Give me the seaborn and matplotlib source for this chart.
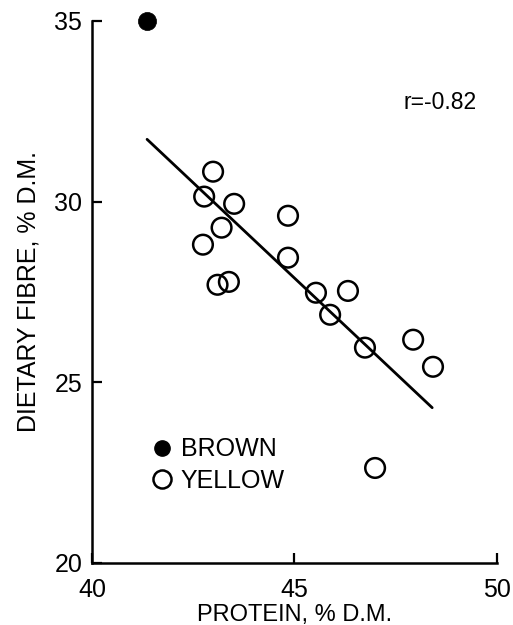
import matplotlib
matplotlib.use("Agg")
import matplotlib.pyplot as plt
import seaborn as sns
import numpy as np
import pandas as pd
from matplotlib.lines import Line2D

# ---- data ----
brown_protein = [41.36]
brown_fibre = [35.0]

yellow_protein = [42.99, 42.77, 43.51, 43.20, 42.74, 43.10, 43.38, 44.84,
                  44.84, 45.53, 46.32, 45.88, 46.74, 47.93, 48.42, 46.99]
yellow_fibre = [30.83, 30.14, 29.94, 29.28, 28.81, 27.70, 27.78, 29.61,
                28.45, 27.48, 27.53, 26.87, 25.96, 26.18, 25.43, 22.63]

fit_slope = -1.055
fit_intercept = 75.36
fit_x_range = [41.36, 48.40]
r_text = "r=-0.82"

x_ticks = [40, 45, 50]
y_ticks = [20, 25, 30, 35]

sns.set_theme(style="ticks")
plt.rcParams['font.family'] = ['Liberation Sans', 'DejaVu Sans']
plt.rcParams['text.color'] = 'black'
plt.rcParams['axes.labelcolor'] = 'black'

fig = plt.figure(figsize=(5.13, 6.25), dpi=100)
ax = fig.add_axes([0.1793, 0.0992, 0.7895, 0.8672])

brown = pd.DataFrame({"protein": brown_protein, "fibre": brown_fibre})
yellow = pd.DataFrame({"protein": yellow_protein, "fibre": yellow_fibre})

sns.scatterplot(data=yellow, x="protein", y="fibre", ax=ax, s=200,
                facecolor="none", edgecolor="black", linewidth=1.8,
                marker="o", clip_on=False, zorder=3)
sns.scatterplot(data=brown, x="protein", y="fibre", ax=ax, s=170,
                color="black", edgecolor="black", linewidth=0.5,
                marker="o", clip_on=False, zorder=3)

fx = np.array(fit_x_range)
fy = fit_intercept + fit_slope * fx
sns.lineplot(x=fx, y=fy, ax=ax, color="black", linewidth=2.0, zorder=2)

ax.set_xlim(40, 50)
ax.set_ylim(20, 35)
ax.set_xticks(x_ticks)
ax.set_yticks(y_ticks)
ax.tick_params(direction="in", length=7, width=1.6, labelsize=18,
               colors="black", pad=7)
ax.tick_params(axis="x", pad=11)
for s in ["top", "right"]:
    ax.spines[s].set_visible(False)
for s in ["left", "bottom"]:
    ax.spines[s].set_linewidth(1.8)
    ax.spines[s].set_color("black")

ax.set_xlabel("PROTEIN, % D.M.", fontsize=17, labelpad=1)
ax.set_ylabel("DIETARY FIBRE, % D.M.", fontsize=18, labelpad=10)

ax.text(47.7, 32.74, r_text, fontsize=16.5, va="center", ha="left")

handles = [
    Line2D([], [], marker="o", linestyle="none", markerfacecolor="black",
           markeredgecolor="black", markersize=11),
    Line2D([], [], marker="o", linestyle="none", markerfacecolor="none",
           markeredgecolor="black", markeredgewidth=1.8, markersize=13),
]
ax.legend(handles, ["BROWN", "YELLOW"], loc="upper left",
          bbox_to_anchor=(0.142, 0.232), frameon=False, fontsize=18,
          handletextpad=0.25, handlelength=1.0, labelspacing=0.3,
          borderaxespad=0, borderpad=0)

fig.savefig("out.png", dpi=100, facecolor="white")
